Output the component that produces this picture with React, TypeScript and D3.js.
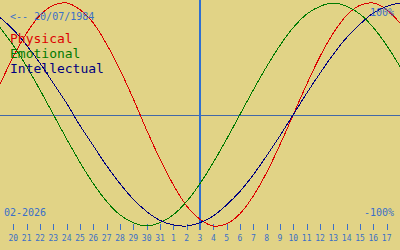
import React from "react";
import * as d3 from "d3";

// Days shown, from 19 Jan to 18 Feb 2026 (index 15 = 3 Feb, centre line)
const dayLabels = [19, 20, 21, 22, 23, 24, 25, 26, 27, 28, 29, 30, 31, 1, 2, 3, 4, 5, 6, 7, 8, 9, 10, 11, 12, 13, 14, 15, 16, 17, 18];
const physical = [27, 52, 73, 89, 98, 100, 94, 82, 63, 40, 14, -14, -40, -63, -82, -94, -100, -98, -89, -73, -52, -27, 0, 27, 52, 73, 89, 98, 100, 94, 82];
const emotional = [78, 62, 43, 22, 0, -22, -43, -62, -78, -90, -97, -100, -97, -90, -78, -62, -43, -22, 0, 22, 43, 62, 78, 90, 97, 100, 97, 90, 78, 62, 43];
const intellectual = [87, 76, 62, 46, 28, 10, -10, -28, -46, -62, -76, -87, -95, -99, -100, -97, -91, -81, -69, -54, -37, -19, 0, 19, 37, 54, 69, 81, 91, 97, 100];
const seriesNames = ["Physical", "Emotional", "Intellectual"];
const birthLabel = "<-- 20/07/1984";
const monthLabel = "02-2026";
const topLabel = "100%";
const bottomLabel = "-100%";
const centerIndex = 15;

const W = 400;
const H = 250;
const BG = "#e1d386";
const AXIS_BLUE = "#3a6fc8";
const colors = ["#dd0000", "#007a00", "#00007f"];
const FONT = "'DejaVu Sans Mono', monospace";

export default function App() {
  const x = d3.scaleLinear().domain([0, dayLabels.length - 1]).range([0, W]);
  const y = d3.scaleLinear().domain([-100, 100]).range([226, 3]);
  const line = d3
    .line<number>()
    .x((_, i) => x(i))
    .y((v) => y(v))
    .curve(d3.curveCatmullRom.alpha(0.5));
  const series = [physical, emotional, intellectual];
  const tickTop = 224;
  const tickBottom = 230;

  return (
    <div style={{ position: "fixed", left: 0, top: 0, width: W, height: H }}>
      <svg width={W} height={H} style={{ display: "block", background: BG }}>
        <rect x={0} y={0} width={W} height={H} fill={BG} />
        {/* zero line */}
        <line x1={0} x2={W} y1={y(0) + 0.5} y2={y(0) + 0.5} stroke="#4268a8" strokeWidth={1} shapeRendering="crispEdges" />
        {/* today line */}
        <line x1={x(centerIndex)} x2={x(centerIndex)} y1={0} y2={tickBottom} stroke="#2f6fd0" strokeWidth={2} shapeRendering="crispEdges" />
        {/* ticks and labels */}
        {dayLabels.map((d, i) =>
          i > 0 && i < dayLabels.length - 1 ? (
            <g key={i}>
              <line
                x1={Math.round(x(i)) + 0.5}
                x2={Math.round(x(i)) + 0.5}
                y1={tickTop}
                y2={tickBottom}
                stroke={AXIS_BLUE}
                strokeWidth={1}
                shapeRendering="crispEdges"
              />
              <text x={x(i)} y={241} textAnchor="middle" fontFamily={FONT} fontSize={8} fill={AXIS_BLUE}>
                {d}
              </text>
            </g>
          ) : null
        )}
        {/* curves */}
        {series.map((s, k) => (
          <path key={k} d={line(s) || ""} fill="none" stroke={colors[k]} strokeWidth={1} shapeRendering="crispEdges" />
        ))}
        {/* texts */}
        <text x={10} y={20} fontFamily={FONT} fontSize={10} fill={AXIS_BLUE}>
          {birthLabel}
        </text>
        <text x={394} y={16} textAnchor="end" fontFamily={FONT} fontSize={10} fill={AXIS_BLUE}>
          {topLabel}
        </text>
        <text x={394} y={216} textAnchor="end" fontFamily={FONT} fontSize={10} fill={AXIS_BLUE}>
          {bottomLabel}
        </text>
        <text x={4} y={216} fontFamily={FONT} fontSize={10} fill={AXIS_BLUE}>
          {monthLabel}
        </text>
        {seriesNames.map((n, k) => (
          <text key={n} x={10} y={43 + k * 15} fontFamily={FONT} fontSize={13} fill={colors[k]}>
            {n}
          </text>
        ))}
      </svg>
    </div>
  );
}
